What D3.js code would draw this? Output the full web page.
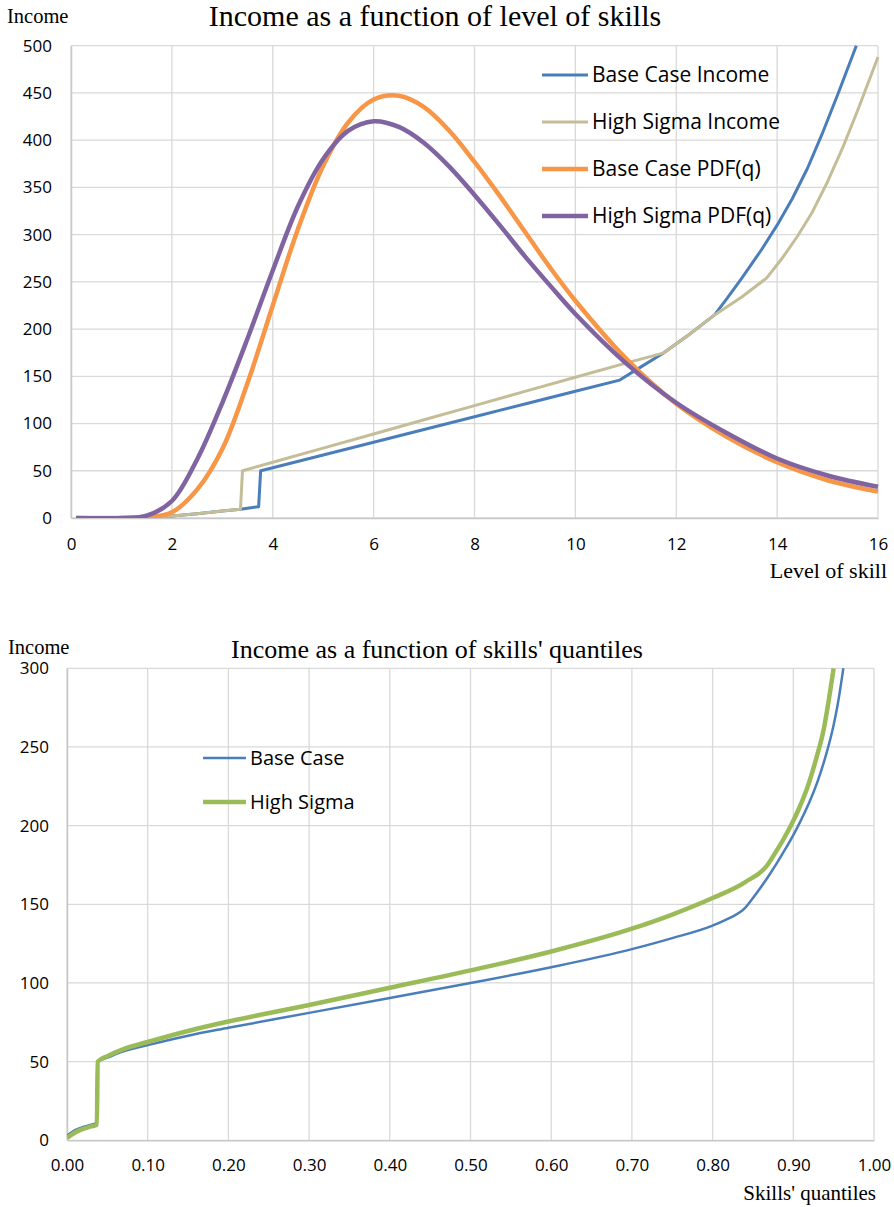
<!DOCTYPE html>
<html>
<head>
<meta charset="utf-8">
<script src="https://cdn.jsdelivr.net/npm/d3@7"></script>
<style>
  body { margin: 0; background: #fff; }
  svg { display: block; }
  .tick text { font-family: "Open Sans", sans-serif; font-size: 17px; fill: #000; }
  .serif { font-family: "Liberation Serif", "Times New Roman", serif; fill: #000; }
  .leg { font-family: "Open Sans", sans-serif; fill: #000; }
</style>
</head>
<body>
<svg id="chart"></svg>
<script>
// ---- top chart: income vs level of skill ----
const skillTicks = [0, 2, 4, 6, 8, 10, 12, 14, 16];
const incomeTicksTop = [0, 50, 100, 150, 200, 250, 300, 350, 400, 450, 500];

const baseIncome = [
  [0.1, 0], [1, 0.2], [1.5, 0.6], [2, 2], [2.5, 4.6], [3, 7.4], [3.36, 9.3], [3.5, 10.4], [3.72, 12],
  [3.76, 50], [4, 53.2], [5, 66.7], [6, 80.2], [7, 93.7], [8, 107.2], [9, 120.7], [10, 134.2], [10.88, 146],
  [11.3, 160], [11.74, 174.5], [12.25, 194], [12.76, 215], [13.0, 232], [13.3, 254], [13.69, 284], [14, 310],
  [14.3, 338], [14.6, 370], [14.88, 405], [15.2, 448], [15.57, 500]
];
const highIncome = [
  [0.1, 0], [1, 0.2], [1.5, 0.6], [2, 2], [2.5, 4.6], [3, 7.4], [3.36, 9.3],
  [3.4, 50], [4, 59], [5, 74], [6, 89], [7, 104], [8, 119], [9, 134], [10, 149], [11, 164],
  [11.74, 174.5], [12.25, 194], [12.76, 215], [13.3, 234], [13.79, 254], [14.1, 275], [14.4, 298],
  [14.7, 324], [15, 356], [15.3, 392], [15.6, 432], [16, 488]
];
const pdfSkill = [0.1, 1, 1.5, 2, 2.5, 3, 3.5, 4, 4.5, 5, 5.5, 6, 6.5, 7, 7.5, 8, 8.5, 9, 9.5, 10, 11, 12, 13, 14, 15, 16];
const basePdf  = [0, 0, 0.5, 6, 30, 73, 143, 225, 306, 373, 419, 443, 447, 435, 410, 377, 341, 303, 265, 230, 169, 121, 86, 59, 40, 28];
const highPdf  = [0, 0.1, 2.5, 18, 62, 122, 190, 262, 330, 380, 410, 420, 414, 397, 372, 342, 310, 277, 246, 216, 164, 122, 90, 63, 45, 33];

// ---- bottom chart: income vs skills' quantiles ----
const quantTicks = [0, 0.1, 0.2, 0.3, 0.4, 0.5, 0.6, 0.7, 0.8, 0.9, 1.0];
const incomeTicksBottom = [0, 50, 100, 150, 200, 250, 300];

const baseQ = [0, 0.01, 0.02, 0.03, 0.037, 0.038, 0.05, 0.07, 0.1, 0.15, 0.2, 0.3, 0.4, 0.5, 0.6, 0.7, 0.75, 0.8, 0.82, 0.84,
  0.85, 0.86, 0.87, 0.88, 0.89, 0.9, 0.91, 0.92, 0.93, 0.94, 0.95, 0.955, 0.962];
const baseQIncome = [3, 6.5, 8.5, 10, 11.2, 50, 52.5, 56.5, 60.5, 66.5, 71.5, 81, 90.5, 100, 110, 121.5, 128.5, 136.5, 141, 147.5,
  154, 161, 168.5, 176.5, 185, 194, 204, 215, 228, 244, 264, 277, 300];
const highQ = [0, 0.01, 0.02, 0.03, 0.037, 0.038, 0.05, 0.07, 0.1, 0.15, 0.2, 0.3, 0.4, 0.5, 0.6, 0.7, 0.75, 0.8, 0.84, 0.868,
  0.878, 0.888, 0.898, 0.908, 0.918, 0.928, 0.938, 0.944, 0.95];
const highQIncome = [1.5, 5, 7.3, 8.8, 9.8, 50, 53.5, 58, 62.5, 69.5, 75.5, 86, 97, 108, 120, 134.5, 143.5, 154, 164, 175,
  183, 191.5, 201, 212, 225, 242, 262, 280, 300];

const svg = d3.select("#chart").attr("width", 894).attr("height", 1207);

function drawChart(cfg) {
  const g = svg.append("g");
  const x = d3.scaleLinear().domain(cfg.xDomain).range([cfg.left, cfg.right]);
  const y = d3.scaleLinear().domain(cfg.yDomain).range([cfg.bottom, cfg.top]);

  // grid
  g.append("g").selectAll("line.h")
    .data(cfg.yTicks)
    .join("line")
      .attr("x1", cfg.left).attr("x2", cfg.right)
      .attr("y1", d => y(d)).attr("y2", d => y(d))
      .attr("stroke", "#d9d9d9").attr("stroke-width", 1.3);
  g.append("g").selectAll("line.v")
    .data(cfg.xTicks)
    .join("line")
      .attr("x1", d => x(d)).attr("x2", d => x(d))
      .attr("y1", cfg.top).attr("y2", cfg.bottom)
      .attr("stroke", "#d9d9d9").attr("stroke-width", 1.3);

  // axes (labels only)
  const yAxis = d3.axisLeft(y).tickValues(cfg.yTicks).tickSize(0).tickPadding(cfg.yPad);
  g.append("g").attr("transform", `translate(${cfg.left},0)`).call(yAxis)
    .call(a => a.select(".domain").attr("stroke", "#c8c8c8").attr("stroke-width", 1.5));
  const xAxis = d3.axisBottom(x).tickValues(cfg.xTicks).tickSize(0).tickPadding(cfg.xPad)
    .tickFormat(cfg.xFormat);
  g.append("g").attr("transform", `translate(0,${cfg.bottom})`).call(xAxis)
    .call(a => a.select(".domain").attr("stroke", "#c8c8c8").attr("stroke-width", 1.5));

  const clipId = "clip" + cfg.id;
  svg.append("clipPath").attr("id", clipId)
    .append("rect")
      .attr("x", cfg.left).attr("y", cfg.top - 2)
      .attr("width", cfg.right - cfg.left + 3).attr("height", cfg.bottom - cfg.top + 2);

  g.append("g").attr("clip-path", `url(#${clipId})`)
    .selectAll("path")
    .data(cfg.series)
    .join("path")
      .attr("fill", "none")
      .attr("stroke", d => d.color)
      .attr("stroke-width", d => d.width)
      .attr("stroke-linejoin", "round")
      .attr("d", d => d3.line()
        .x(p => x(p[0]))
        .y(p => y(p[1]))
        .curve(d.curve || d3.curveLinear)(d.points));

  // legend
  g.selectAll("line.leg")
    .data(cfg.series)
    .join("line")
      .attr("x1", cfg.legX).attr("x2", cfg.legX + cfg.legLen)
      .attr("y1", (d, i) => cfg.legY + i * cfg.legStep)
      .attr("y2", (d, i) => cfg.legY + i * cfg.legStep)
      .attr("stroke", d => d.color)
      .attr("stroke-width", d => d.width);
  g.selectAll("text.leg")
    .data(cfg.series)
    .join("text")
      .attr("class", "leg")
      .attr("x", cfg.legX + cfg.legLen + 4)
      .attr("y", (d, i) => cfg.legY + i * cfg.legStep)
      .attr("dy", "0.35em")
      .style("font-size", cfg.legFont + "px")
      .text(d => d.name);

  // titles
  g.append("text").attr("class", "serif")
    .attr("x", cfg.titleX).attr("y", cfg.titleY)
    .attr("text-anchor", "middle")
    .style("font-size", cfg.titleFont + "px")
    .text(cfg.title);
  g.append("text").attr("class", "serif")
    .attr("x", cfg.yLabelX).attr("y", cfg.yLabelY)
    .style("font-size", "20.5px")
    .text("Income");
  g.append("text").attr("class", "serif")
    .attr("x", cfg.xLabelX).attr("y", cfg.xLabelY)
    .attr("text-anchor", "end")
    .style("font-size", cfg.xLabelFont + "px")
    .text(cfg.xLabel);
}

drawChart({
  id: "top",
  left: 71, right: 878, top: 45.7, bottom: 518,
  xDomain: [0, 16], yDomain: [0, 500],
  xTicks: skillTicks, yTicks: incomeTicksTop,
  xFormat: d3.format("d"), xPad: 20, yPad: 19,
  series: [
    { name: "Base Case Income", color: "#4a7ebb", width: 3, points: baseIncome },
    { name: "High Sigma Income", color: "#c4bd97", width: 3, points: highIncome },
    { name: "Base Case PDF(q)", color: "#f79646", width: 4.5, curve: d3.curveCatmullRom.alpha(0.5),
      points: pdfSkill.map((s, i) => [s, basePdf[i]]) },
    { name: "High Sigma PDF(q)", color: "#8064a2", width: 4.5, curve: d3.curveCatmullRom.alpha(0.5),
      points: pdfSkill.map((s, i) => [s, highPdf[i]]) }
  ],
  legX: 542, legLen: 46, legY: 75, legStep: 47, legFont: 21,
  title: "Income as a function of level of skills", titleX: 435, titleY: 26, titleFont: 30,
  yLabelX: 7, yLabelY: 23,
  xLabel: "Level of skill", xLabelX: 887, xLabelY: 578, xLabelFont: 22
});

drawChart({
  id: "bottom",
  left: 67, right: 874, top: 668.3, bottom: 1140.3,
  xDomain: [0, 1], yDomain: [0, 300],
  xTicks: quantTicks, yTicks: incomeTicksBottom,
  xFormat: d3.format(".2f"), xPad: 19, yPad: 18,
  series: [
    { name: "Base Case", color: "#4a7ebb", width: 2.5, curve: d3.curveMonotoneX,
      points: baseQ.map((q, i) => [q, baseQIncome[i]]) },
    { name: "High Sigma", color: "#9bbb59", width: 4.5, curve: d3.curveMonotoneX,
      points: highQ.map((q, i) => [q, highQIncome[i]]) }
  ],
  legX: 203, legLen: 43, legY: 758, legStep: 44, legFont: 20,
  title: "Income as a function of skills' quantiles", titleX: 437, titleY: 658, titleFont: 26,
  yLabelX: 8, yLabelY: 654,
  xLabel: "Skills' quantiles", xLabelX: 876, xLabelY: 1200, xLabelFont: 21
});
</script>
</body>
</html>
